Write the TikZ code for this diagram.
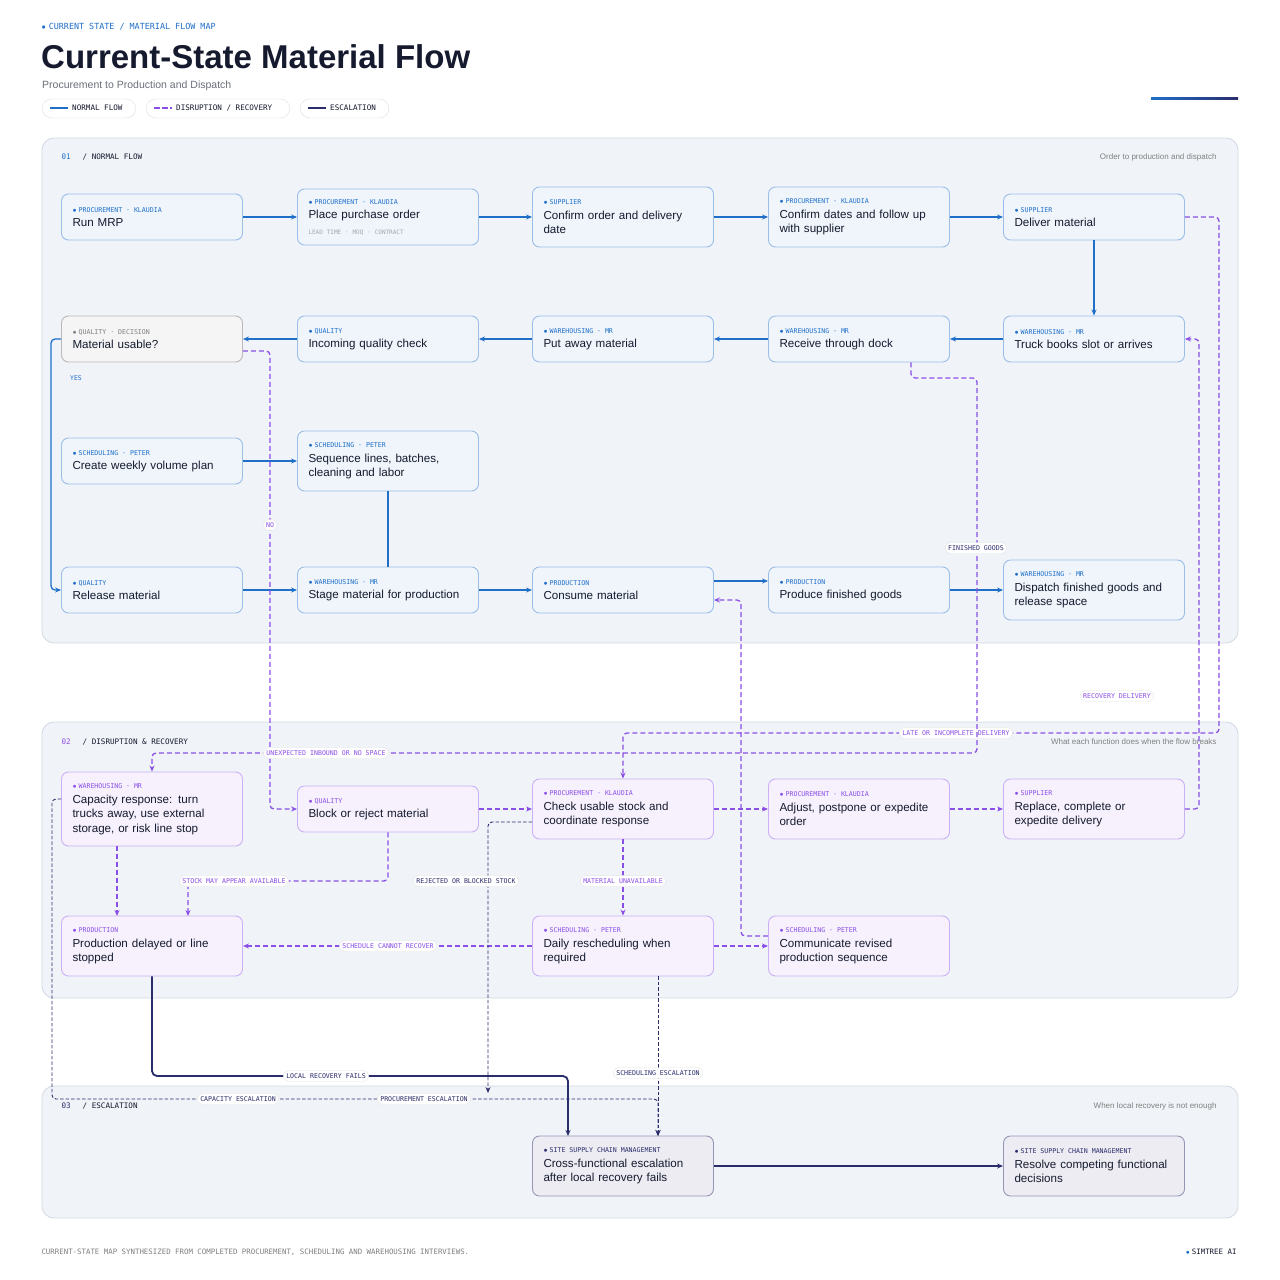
\documentclass[tikz,border=0pt]{standalone}
\usepackage{fontspec}
\setmainfont{Liberation Sans}
\newfontfamily\mono{DejaVu Sans Mono}
\usetikzlibrary{arrows.meta,calc}
\definecolor{bl}{HTML}{1F6FC9}
\definecolor{pu}{HTML}{8A4FE6}
\definecolor{nv}{HTML}{2B2D6B}
\definecolor{gr}{HTML}{6B6F7A}
\definecolor{ink}{HTML}{151A2E}
\definecolor{pan}{HTML}{F0F3F8}
\definecolor{panb}{HTML}{D3D9E3}
\newcommand\tg[2]{{\color{#1}\mono\fontsize{6.6}{8}\selectfont $\bullet$\hspace{2pt}#2}\\[0pt]}
\begin{document}
\lefthyphenmin=64 \hyphenpenalty=10000
\begin{tikzpicture}[x=1pt,y=-1pt,
  >={Stealth[length=6pt,width=5pt]},
  base/.style={rounded corners=7pt,line width=0.9pt,align=left,text width=159pt,inner sep=10pt,font=\fontsize{11.6}{14.5}\selectfont,text=ink,minimum width=181pt},
  nb/.style={base,draw=bl!45,fill=bl!7},
  np/.style={base,draw=pu!45,fill=pu!8},
  ng/.style={base,draw=gray!55,fill=gray!8},
  nn/.style={base,draw=nv!50,fill=nv!9},
  h1/.style={minimum height=46pt},
  h2/.style={minimum height=60pt},
  h3/.style={minimum height=74pt},
  fl/.style={draw=bl,line width=1.3pt,->},
  ds/.style={draw=pu,line width=1.3pt,dash pattern=on 5pt off 3pt,->,rounded corners=4pt},
  es/.style={draw=nv,line width=0.9pt,dash pattern=on 3.5pt off 2pt,->,rounded corners=4pt},
  ex/.style={draw=nv,line width=1.8pt,->,rounded corners=5pt},
  pill/.style={fill=white,draw=gray!20,rounded corners=6pt,inner sep=3pt,font=\mono\fontsize{6.6}{8}\selectfont},
  panel/.style={fill=pan,draw=panb,rounded corners=12pt,line width=0.8pt},
  sm/.style={font=\mono\fontsize{7.6}{9}\selectfont,text=ink,anchor=west}
]
\useasboundingbox[fill=white] (0,0) rectangle (1280,1280);
% header
\node[anchor=west,font=\mono\fontsize{8.4}{9}\selectfont,text=bl] (kick) at (38,27) {$\bullet$\hspace{3pt}CURRENT STATE / MATERIAL FLOW MAP};
\node[anchor=west,font=\fontsize{33}{38}\selectfont\bfseries,text=ink,inner sep=0pt] (title) at (41,57) {Current-State Material Flow};
\node[anchor=west,font=\fontsize{10.5}{12}\selectfont,text=gr,inner sep=0pt] (sub) at (42,86) {Procurement to Production and Dispatch};
\draw[draw=gray!25,fill=white,rounded corners=10pt] (42,99) rectangle (136,118);
\draw[draw=gray!25,fill=white,rounded corners=10pt] (146,99) rectangle (290,118);
\draw[draw=gray!25,fill=white,rounded corners=10pt] (300,99) rectangle (389,118);
\draw[bl,line width=1.5pt] (50,108)--(68,108);
\draw[pu,line width=1.5pt,dash pattern=on 6pt off 2pt] (154,108)--(172,108);
\draw[nv,line width=1.5pt] (308,108)--(326,108);
\node[sm,inner sep=2pt] (l1) at (70,108) {NORMAL FLOW};
\node[sm,inner sep=2pt] (l2) at (174,108) {DISRUPTION / RECOVERY};
\node[sm,inner sep=2pt] (l3) at (328,108) {ESCALATION};
\shade[left color=bl,right color=nv] (1151,97.5) rectangle (1238,99);
% panels
\draw[panel] (42,138) rectangle (1238,643);
\draw[panel] (42,722) rectangle (1238,998);
\draw[panel] (42,1086) rectangle (1238,1218);
\node[sm] (p1) at (58,157) {{\color{bl}01}\hspace{12pt}/ NORMAL FLOW};
\node[sm] (p2) at (58,742) {{\color{pu}02}\hspace{12pt}/ DISRUPTION \& RECOVERY};
\node[sm] (p3) at (58,1106) {{\color{nv}03}\hspace{12pt}/ ESCALATION};
\node[anchor=east,font=\fontsize{8}{9}\selectfont,text=gray] (r1) at (1220,157) {Order to production and dispatch};
\node[anchor=east,font=\fontsize{8}{9}\selectfont,text=gray] (r2) at (1220,742) {What each function does when the flow breaks};
\node[anchor=east,font=\fontsize{8}{9}\selectfont,text=gray] (r3) at (1220,1106) {When local recovery is not enough};
% row 1
\node[nb,h1] (mrp) at (152,217) {\tg{bl}{PROCUREMENT · KLAUDIA}Run MRP};
\node[nb,minimum height=56pt] (po) at (388,217) {\tg{bl}{PROCUREMENT · KLAUDIA}Place purchase order\\[1pt]{\color{gray!70}\mono\fontsize{6}{7}\selectfont LEAD TIME · MOQ · CONTRACT}};
\node[nb,h2] (conf) at (623,217) {\tg{bl}{SUPPLIER}Confirm order and delivery\\date};
\node[nb,h2] (dates) at (859,217) {\tg{bl}{PROCUREMENT · KLAUDIA}Confirm dates and follow up\\with supplier};
\node[nb,h1] (deliv) at (1094,217) {\tg{bl}{SUPPLIER}Deliver material};
% row 2
\node[ng,h1] (usable) at (152,339) {\tg{gray}{QUALITY · DECISION}Material usable?};
\node[nb,h1] (iqc) at (388,339) {\tg{bl}{QUALITY}Incoming quality check};
\node[nb,h1] (put) at (623,339) {\tg{bl}{WAREHOUSING · MR}Put away material};
\node[nb,h1] (recv) at (859,339) {\tg{bl}{WAREHOUSING · MR}Receive through dock};
\node[nb,h1] (truck) at (1094,339) {\tg{bl}{WAREHOUSING · MR}Truck books slot or arrives};
% row 3
\node[nb,h1] (week) at (152,461) {\tg{bl}{SCHEDULING · PETER}Create weekly volume plan};
\node[nb,h2] (seq) at (388,461) {\tg{bl}{SCHEDULING · PETER}Sequence lines, batches,\\cleaning and labor};
% row 4
\node[nb,h1] (rel) at (152,590) {\tg{bl}{QUALITY}Release material};
\node[nb,h1] (stage) at (388,590) {\tg{bl}{WAREHOUSING · MR}Stage material for production};
\node[nb,h1] (cons) at (623,590) {\tg{bl}{PRODUCTION}Consume material};
\node[nb,h1] (prod) at (859,590) {\tg{bl}{PRODUCTION}Produce finished goods};
\node[nb,h2] (disp) at (1094,590) {\tg{bl}{WAREHOUSING · MR}Dispatch finished goods and\\release space};
% disruption
\node[np,h3] (cap) at (152,809) {\tg{pu}{WAREHOUSING · MR}Capacity response: turn\\trucks away, use external\\storage, or risk line stop};
\node[np,h1] (block) at (388,809) {\tg{pu}{QUALITY}Block or reject material};
\node[np,h2] (check) at (623,809) {\tg{pu}{PROCUREMENT · KLAUDIA}Check usable stock and\\coordinate response};
\node[np,h2] (adj) at (859,809) {\tg{pu}{PROCUREMENT · KLAUDIA}Adjust, postpone or expedite\\order};
\node[np,h2] (repl) at (1094,809) {\tg{pu}{SUPPLIER}Replace, complete or\\expedite delivery};
\node[np,h2] (pdl) at (152,946) {\tg{pu}{PRODUCTION}Production delayed or line\\stopped};
\node[np,h2] (daily) at (623,946) {\tg{pu}{SCHEDULING · PETER}Daily rescheduling when\\required};
\node[np,h2] (comm) at (859,946) {\tg{pu}{SCHEDULING · PETER}Communicate revised\\production sequence};
% escalation
\node[nn,h2] (cross) at (623,1166) {\tg{nv}{SITE SUPPLY CHAIN MANAGEMENT}Cross-functional escalation\\after local recovery fails};
\node[nn,h2] (resol) at (1094,1166) {\tg{nv}{SITE SUPPLY CHAIN MANAGEMENT}Resolve competing functional\\decisions};
% normal flow
\draw[fl] (mrp) -- (po);
\draw[fl] (po) -- (conf);
\draw[fl] (conf) -- (dates);
\draw[fl] (dates) -- (deliv);
\draw[fl] (deliv) -- (truck);
\draw[fl] (truck) -- (recv);
\draw[fl] (recv) -- (put);
\draw[fl] (put) -- (iqc);
\draw[fl] (iqc) -- (usable);
\draw[fl,rounded corners=4pt] (usable.west) -- ++(-10,0) |- (rel.west);
\node[font=\mono\fontsize{6.4}{7}\selectfont,text=bl] (yes) at (76,378) {YES};
\draw[fl] (week) -- (seq);
\draw[fl] (rel) -- (stage);
\draw[bl,line width=1.3pt] (seq) -- (stage);
\draw[fl] (stage) -- (cons);
\draw[fl] ($(cons.east)+(0,-9)$) -- ($(prod.west)+(0,-9)$);
\draw[fl] (prod) -- (disp);
% disruption flows
\draw[ds] ($(usable.east)+(0,12)$) -| (270,809) -- (block.west);
\node[pill,text=pu] (no) at (270,525) {NO};
\draw[ds] (deliv.east) -| (1219,733) -| (check.north);
\node[pill,text=pu] (late) at (956,733) {LATE OR INCOMPLETE DELIVERY};
\draw[ds] ($(recv.south)+(52,0)$) |- (977,378) -- (977,753) -| (cap.north);
\node[pill,text=pu] (unexp) at (326,753) {UNEXPECTED INBOUND OR NO SPACE};
\node[pill,text=nv] (fg) at (976,548) {FINISHED GOODS};
\draw[ds] (repl.east) -| (1199,339) -- (truck.east);
\node[pill,text=pu] (rd) at (1117,696) {RECOVERY DELIVERY};
\draw[ds] (block) -- (check);
\draw[ds] (check) -- (adj);
\draw[ds] (adj) -- (repl);
\draw[ds] (check) -- (daily);
\node[pill,text=pu] (mu) at (623,881) {MATERIAL UNAVAILABLE};
\draw[ds] (117,846) -- (117,916);
\draw[ds] (block.south) |- (188,881) -- (188,916);
\node[pill,text=pu] (smaa) at (234,881) {STOCK MAY APPEAR AVAILABLE};
\draw[ds] (daily) -- (pdl);
\node[pill,text=pu] (scr) at (388,946) {SCHEDULE CANNOT RECOVER};
\draw[ds] (daily) -- (comm);
\draw[ds] ($(comm.west)+(0,-10)$) -| (741,600) -- ($(cons.east)+(0,10)$);
% escalation
\draw[es] ($(check.west)+(0,13)$) -| (488,1093);
\node[pill,text=nv] (rbs) at (466,881) {REJECTED OR BLOCKED STOCK};
\draw[es] ($(cap.west)+(0,-10)$) -| (52,1099) -| (658,1136);
\node[pill,text=nv] (ce) at (238,1099) {CAPACITY ESCALATION};
\node[pill,text=nv] (pe) at (424,1099) {PROCUREMENT ESCALATION};
\draw[es] (658,976) -- (658,1136);
\node[pill,text=nv] (se) at (658,1073) {SCHEDULING ESCALATION};
\draw[ex] (pdl.south) |- (568,1076) -- (568,1136);
\node[pill,text=nv] (lrf) at (326,1076) {LOCAL RECOVERY FAILS};
\draw[ex] (cross) -- (resol);
% footer
\node[anchor=west,font=\mono\fontsize{7.4}{8}\selectfont,text=gray] (foot) at (38,1252) {CURRENT-STATE MAP SYNTHESIZED FROM COMPLETED PROCUREMENT, SCHEDULING AND WAREHOUSING INTERVIEWS.};
\node[anchor=east,font=\mono\fontsize{7.4}{8}\selectfont,text=ink] (brand) at (1240,1252) {{\color{bl}$\bullet$}\hspace{2pt}SIMTREE AI};
\end{tikzpicture}
\end{document}
